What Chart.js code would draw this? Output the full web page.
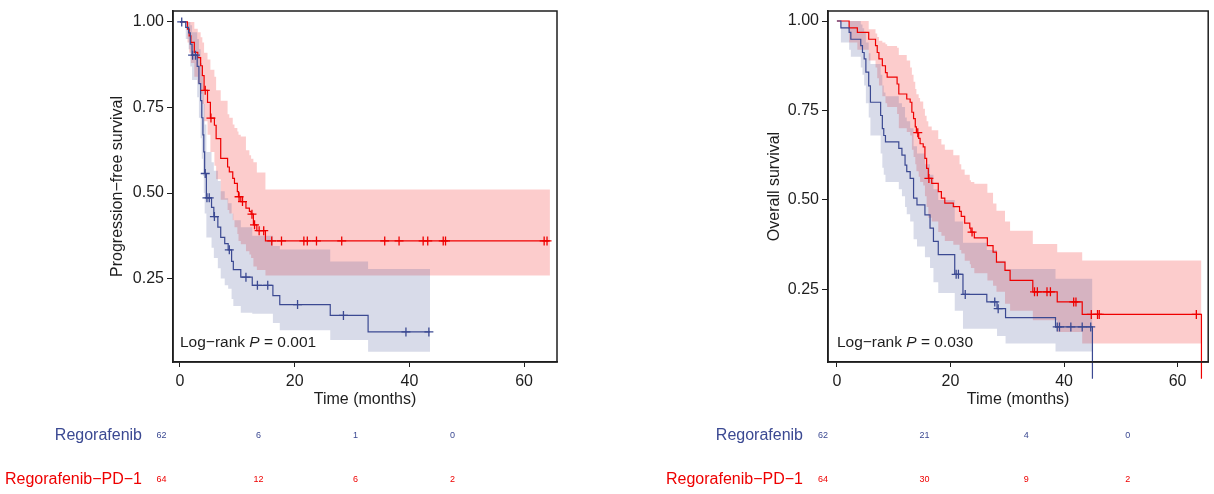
<!DOCTYPE html>
<html>
<head>
<meta charset="utf-8">
<script src="https://cdn.jsdelivr.net/npm/chart.js@4.4.1/dist/chart.umd.min.js"></script>
<style>
  html, body { margin: 0; padding: 0; background: #fff; }
  body { width: 1214px; height: 494px; position: relative; overflow: hidden; }
  canvas { position: absolute; top: 0; }
</style>
</head>
<body>
<canvas id="pfs" width="607" height="494" style="left:0"></canvas>
<canvas id="os" width="607" height="494" style="left:607px"></canvas>
<script>
// axis ticks
const timeTicks = [0, 20, 40, 60];
const timeTickLabels = ['0', '20', '40', '60'];
const survTicks = [0.25, 0.5, 0.75, 1.0];
const survTickLabels = ['0.25', '0.50', '0.75', '1.00'];

const groups = ['Regorafenib', 'Regorafenib\u2212PD\u22121'];
const riskTimes = [0, 20, 40, 60];

// Progression-free survival, Regorafenib
const pfsRegTime = [0, 1.0, 1.5, 1.8, 2.1, 3.0, 3.3, 3.6, 3.8, 4.0, 4.15, 4.3, 4.6, 5.5, 5.9, 6.6, 7.1, 7.8, 8.4, 9.0, 9.3, 10.6, 12.6, 16.2, 17.4, 26.2, 32.8];
const pfsRegSurv = [1, .984, .968, .935, .903, .87, .82, .77, .72, .67, .62, .557, .486, .458, .431, .40, .37, .352, .334, .30, .276, .254, .23, .20, .174, .142, .094];
const pfsRegLo = [1, .95, .92, .87, .83, .78, .72, .66, .60, .55, .50, .44, .37, .34, .31, .28, .25, .23, .22, .19, .17, .15, .147, .12, .099, .07, .036];
const pfsRegHi = [1, 1, 1, .99, .97, .95, .92, .88, .84, .80, .76, .70, .62, .59, .565, .535, .505, .485, .47, .44, .42, .40, .375, .345, .335, .30, .278];
const pfsRegCens = [0.3, 2.2, 2.7, 4.4, 4.7, 5.1, 6.0, 8.6, 11.5, 13.5, 15.3, 20.5, 28.5, 39.4, 43.4];
const pfsRegEnd = 43.6;

// Progression-free survival, Regorafenib-PD-1
const pfsPdTime = [0, 1.3, 1.6, 1.9, 2.5, 3.1, 3.6, 3.9, 4.2, 4.8, 5.3, 6.0, 6.3, 7.1, 8.3, 8.6, 9.2, 9.5, 10.0, 10.2, 10.6, 11.5, 12.1, 12.4, 12.8, 13.4, 14.9];
const pfsPdSurv = [1, .979, .959, .94, .911, .896, .872, .843, .80, .765, .719, .698, .659, .601, .576, .562, .543, .528, .504, .489, .475, .456, .446, .438, .407, .39, .36];
const pfsPdLo = [1, .94, .91, .88, .84, .82, .79, .76, .71, .67, .62, .58, .54, .48, .45, .44, .42, .40, .38, .36, .35, .33, .32, .31, .285, .275, .259];
const pfsPdHi = [1, 1, 1, 1, .98, .97, .955, .94, .91, .89, .86, .84, .80, .77, .73, .72, .70, .69, .68, .67, .665, .625, .61, .60, .59, .56, .51];
const pfsPdCens = [4.4, 5.4, 10.3, 10.9, 12.55, 13.0, 13.8, 14.6, 16.0, 17.7, 21.6, 22.2, 23.8, 28.2, 35.7, 38.2, 42.4, 43.2, 45.9, 46.3, 63.5, 64.0];
const pfsPdEnd = 64.5;

// Overall survival, Regorafenib
const osRegTime = [0, 0.7, 2.15, 2.45, 4.2, 4.5, 4.8, 5.1, 5.6, 5.9, 7.7, 8.0, 8.25, 8.55, 10.9, 11.45, 12.0, 12.3, 12.9, 13.5, 14.1, 15.5, 16.4, 17.0, 17.85, 20.75, 22.2, 26.4, 28.2, 29.7, 38.5, 45.0];
const osRegSurv = [1, .981, .968, .949, .931, .912, .894, .857, .819, .773, .736, .699, .68, .662, .644, .625, .597, .579, .56, .505, .486, .458, .421, .384, .347, .292, .236, .215, .196, .171, .145, 0];
const osRegLo = [1, .94, .92, .90, .87, .85, .82, .77, .73, .68, .63, .59, .57, .55, .53, .51, .48, .46, .44, .39, .37, .34, .31, .27, .24, .19, .14, .14, .12, .099, .076, .076];
const osRegHi = [1, 1, 1, 1, .99, .98, .97, .94, .91, .88, .85, .82, .80, .79, .77, .76, .73, .72, .70, .65, .63, .60, .57, .53, .50, .44, .38, .36, .33, .307, .28, .28];
const osRegCens = [21.0, 21.4, 22.6, 27.8, 28.4, 38.8, 39.2, 41.2, 43.2, 44.7];

// Overall survival, Regorafenib-PD-1
const osPdTime = [0, 2.15, 3.6, 5.6, 6.8, 7.1, 7.4, 8.0, 8.55, 8.85, 10.6, 10.9, 12.3, 12.9, 13.2, 13.5, 13.8, 14.0, 14.4, 14.65, 15.2, 15.5, 15.8, 16.1, 16.7, 17.85, 18.4, 19.0, 20.5, 21.6, 21.9, 22.5, 23.4, 23.6, 24.2, 26.5, 27.5, 28.1, 29.6, 30.5, 34.5, 38.8, 43.2, 64.2];
const osPdSurv = [1, .981, .968, .949, .931, .912, .894, .875, .856, .843, .824, .796, .782, .773, .745, .727, .704, .688, .672, .657, .648, .616, .588, .560, .546, .523, .505, .491, .481, .468, .454, .435, .421, .41, .394, .372, .354, .326, .303, .275, .243, .215, .18, 0];
const osPdLo = [1, .94, .92, .89, .87, .84, .82, .79, .77, .76, .74, .70, .69, .68, .64, .62, .60, .58, .565, .55, .54, .51, .48, .45, .44, .41, .40, .385, .375, .36, .35, .33, .32, .31, .295, .275, .26, .243, .21, .19, .164, .131, .099, .099];
const osPdHi = [1, 1, 1, .977, .965, .955, .945, .94, .935, .93, .925, .905, .89, .87, .85, .83, .81, .795, .785, .775, .755, .735, .72, .705, .695, .67, .655, .64, .625, .60, .585, .57, .555, .55, .545, .52, .49, .47, .44, .414, .377, .354, .331, .331];
const osPdCens = [14.24, 16.2, 23.8, 34.8, 35.3, 37.0, 37.6, 41.7, 42.1, 44.8, 45.9, 46.2, 63.3];

// numbers at risk
const pfsRiskReg = [62, 6, 1, 0];
const pfsRiskPd = [64, 12, 6, 2];
const osRiskReg = [62, 21, 4, 0];
const osRiskPd = [64, 30, 9, 2];

const FONT = '"Liberation Sans", Arial, Helvetica, sans-serif';
const BLUE = '#3B4992';
const RED = '#EE0000';
const BLUE_BAND = 'rgba(59,73,146,0.2)';
const RED_BAND = 'rgba(238,0,0,0.2)';
const INK = '#1e1e1e';

function stepValue(times, vals, t) {
    let v = vals[0];
    for (let i = 0; i < times.length; i++) {
        if (times[i] <= t) v = vals[i];
    }
    return v;
}

function pts(times, vals, end) {
    let out = times.map((t, i) => ({ x: t, y: vals[i] }));
    if (end != null) out.push({ x: end, y: vals[vals.length - 1] });
    return out;
}

function kmDatasets(list) {
    let sets = [];
    list.forEach(g => {
        let k = sets.length;
        sets.push({ data: pts(g.time, g.hi, g.end), stepped: true, borderWidth: 0, borderColor: 'transparent', pointRadius: 0, fill: false, order: 3 });
        sets.push({ data: pts(g.time, g.lo, g.end), stepped: true, borderWidth: 0, borderColor: 'transparent', pointRadius: 0, fill: k, backgroundColor: g.band, order: 3 });
    });
    list.forEach(g => {
        sets.push({ data: pts(g.time, g.surv, g.end), stepped: true, borderColor: g.color, borderWidth: 1.2, pointRadius: 0, fill: false, clip: false, order: 1 });
        sets.push({
            data: g.cens.map(t => ({ x: t, y: stepValue(g.time, g.surv, t) })),
            showLine: false, pointStyle: 'cross', pointRadius: 4.5,
            pointBorderColor: g.color, pointBorderWidth: 1.3, order: 0
        });
    });
    return sets;
}

function framePlugin(cfg) {
    return {
        id: 'frame',
        afterDraw(chart) {
            let ctx = chart.ctx, a = chart.chartArea;
            ctx.save();
            ctx.strokeStyle = INK;
            ctx.lineWidth = 1.5;
            ctx.strokeRect(a.left, a.top, a.right - a.left, a.bottom - a.top);

            // log-rank annotation
            ctx.fillStyle = INK;
            ctx.textBaseline = 'middle';
            ctx.textAlign = 'left';
            let x = chart.scales.x.getPixelForValue(0);
            let y = a.bottom - 19;
            ctx.font = '15.5px ' + FONT;
            let s1 = 'Log\u2212rank ';
            ctx.fillText(s1, x, y);
            x += ctx.measureText(s1).width;
            ctx.font = 'italic 15.5px ' + FONT;
            ctx.fillText('P', x, y);
            x += ctx.measureText('P').width;
            ctx.font = '15.5px ' + FONT;
            ctx.fillText(' = ' + cfg.pText, x, y);

            // risk table
            let rows = [{ label: groups[0], color: BLUE, vals: cfg.riskReg, y: 436 },
                        { label: groups[1], color: RED, vals: cfg.riskPd, y: 480 }];
            rows.forEach(r => {
                ctx.fillStyle = r.color;
                ctx.font = '16px ' + FONT;
                ctx.textAlign = 'right';
                ctx.fillText(r.label, cfg.labelRight, r.y);
                ctx.font = '9px ' + FONT;
                ctx.textAlign = 'center';
                riskTimes.forEach((t, i) => {
                    ctx.fillText(String(r.vals[i]), cfg.tableX0 + t * cfg.tablePx, r.y);
                });
            });
            ctx.restore();
        }
    };
}

function makeChart(id, cfg) {
    new Chart(document.getElementById(id), {
        type: 'line',
        data: { datasets: kmDatasets(cfg.groups) },
        options: {
            responsive: false,
            animation: false,
            events: [],
            layout: { padding: { left: cfg.padLeft, right: cfg.padRight, top: 9, bottom: 84 } },
            plugins: { legend: { display: false }, tooltip: { enabled: false } },
            scales: {
                x: {
                    type: 'linear', min: cfg.xMin, max: cfg.xMax,
                    afterBuildTicks: s => { s.ticks = timeTicks.map(v => ({ value: v })); },
                    afterFit: s => { s.height = 48; },
                    ticks: { color: INK, font: { family: FONT, size: 16 }, padding: 5, maxRotation: 0, callback: (v, i) => timeTickLabels[i] },
                    grid: { drawOnChartArea: false, drawTicks: true, tickLength: 5, color: INK, lineWidth: 1 },
                    border: { display: true, color: INK, width: 1.5 },
                    title: { display: true, text: 'Time (months)', color: INK, font: { family: FONT, size: 16 }, padding: { top: 0, bottom: 1 } }
                },
                y: {
                    type: 'linear', min: cfg.yMin, max: cfg.yMax,
                    afterBuildTicks: s => { s.ticks = survTicks.map(v => ({ value: v })); },
                    afterFit: s => { s.width = cfg.yWidth; },
                    ticks: { color: INK, font: { family: FONT, size: 16, lineHeight: 1 }, padding: 3, callback: (v, i) => survTickLabels[i] },
                    grid: { drawOnChartArea: false, drawTicks: true, tickLength: 6, color: INK, lineWidth: 1 },
                    border: { display: true, color: INK, width: 1.5 },
                    title: { display: true, text: cfg.yTitle, color: INK, font: { family: FONT, size: 16 }, padding: { top: 4, bottom: 0 } }
                }
            }
        },
        plugins: [framePlugin(cfg)]
    });
}

makeChart('pfs', {
    groups: [
        { time: pfsRegTime, surv: pfsRegSurv, lo: pfsRegLo, hi: pfsRegHi, cens: pfsRegCens, end: pfsRegEnd, color: BLUE, band: BLUE_BAND },
        { time: pfsPdTime, surv: pfsPdSurv, lo: pfsPdLo, hi: pfsPdHi, cens: pfsPdCens, end: pfsPdEnd, color: RED, band: RED_BAND }
    ],
    padLeft: 104, yWidth: 69, padRight: 50,
    xMin: -1.22, xMax: 65.74, yMin: 0.006, yMax: 1.032,
    yTitle: 'Progression\u2212free survival',
    pText: '0.001',
    riskReg: pfsRiskReg, riskPd: pfsRiskPd,
    labelRight: 142, tableX0: 161.5, tablePx: 4.85
});

makeChart('os', {
    groups: [
        { time: osRegTime, surv: osRegSurv, lo: osRegLo, hi: osRegHi, cens: osRegCens, end: null, color: BLUE, band: BLUE_BAND },
        { time: osPdTime, surv: osPdSurv, lo: osPdLo, hi: osPdHi, cens: osPdCens, end: null, color: RED, band: RED_BAND }
    ],
    padLeft: 154, yWidth: 67, padRight: 2,
    xMin: -1.57, xMax: 65.39, yMin: 0.047, yMax: 1.028,
    yTitle: 'Overall survival',
    pText: '0.030',
    riskReg: osRiskReg, riskPd: osRiskPd,
    labelRight: 196, tableX0: 216, tablePx: 5.08
});
</script>
</body>
</html>
